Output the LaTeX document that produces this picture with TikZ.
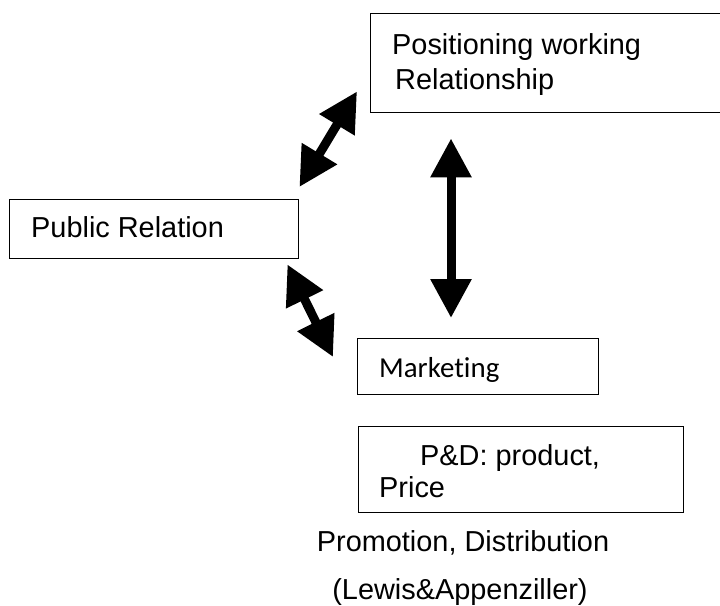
\documentclass[tikz,border=0pt]{standalone}
\usepackage{fontspec}
\setmainfont{Liberation Sans}
\newfontfamily\carlito[Ligatures=NoCommon]{Carlito}
\usetikzlibrary{arrows.meta,positioning}

\begin{document}
\begin{tikzpicture}[x=1bp,y=-1bp,
    box/.style={draw, line width=1.4bp, inner sep=0pt, anchor=north west},
    txt/.style={anchor=base west, inner sep=0pt, font=\fontsize{29}{35}\selectfont},
    dblarrow/.style={line width=9bp, {Triangle[length=39bp,width=39bp]}-{Triangle[length=39bp,width=39bp]}}]
    \useasboundingbox (0,0) rectangle (720,606);

    % Boxes
    \node[box, minimum width=360bp, minimum height=99bp] (pos) at (370,13) {};
    \node[box, minimum width=289bp, minimum height=59bp] (pr) at (9,199) {};
    \node[box, minimum width=241bp, minimum height=56bp] (mkt) at (357,338) {};
    \node[box, minimum width=325bp, minimum height=86bp] (pd) at (358,426) {};

    % Texts
    \node[txt] (posA) at (392,55) {Positioning working};
    \node[txt] (posB) at (395,90) {Relationship};
    \node[txt] (prA) at (31,237) {Public Relation};
    \node[txt, font=\fontsize{29}{35}\selectfont\carlito] (mktA) at (379,377) {Marketing};
    \node[txt] (pdA) at (420,465) {P\&D: product,};
    \node[txt] (pdB) at (379,497) {Price};
    \node[txt, anchor=base] (src1) at (463,551) {Promotion, Distribution};
    \node[txt, anchor=base] (src2) at (460,599) {(Lewis\&Appenziller)};

    % Arrows
    \draw[dblarrow] ([shift={(0,-12)}]pr.north east) -- ([shift={(-13,-22)}]pos.south west);
    \draw[dblarrow] ([shift={(81,25)}]pos.south west) -- ([shift={(94,-20)}]mkt.north west);
    \draw[dblarrow] ([shift={(-12,5)}]pr.south east) -- ([shift={(-24,19)}]mkt.north west);
\end{tikzpicture}
\end{document}
